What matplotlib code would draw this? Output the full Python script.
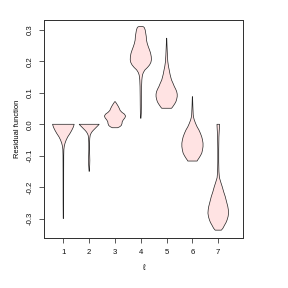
import numpy as np
import matplotlib
matplotlib.use("Agg")
import matplotlib.pyplot as plt

plt.rcParams['font.family'] = ['Liberation Sans', 'DejaVu Sans']
plt.rcParams['axes.unicode_minus'] = False

# violin outlines: level of the residual and half width
pos = [1, 2, 3, 4, 5, 6, 7]

v1_y = [0.0, -0.01, -0.02, -0.03, -0.04, -0.05, -0.06, -0.07, -0.08, -0.1, -0.15, -0.2, -0.25, -0.3]
v1_w = [0.42, 0.38, 0.32, 0.25, 0.17, 0.11, 0.065, 0.035, 0.02, 0.014, 0.012, 0.011, 0.01, 0.006]

v2_y = [0.0, -0.005, -0.01, -0.015, -0.02, -0.025, -0.03, -0.035, -0.045, -0.06, -0.08,
        -0.1, -0.115, -0.13, -0.14, -0.15]
v2_w = [0.39, 0.33, 0.27, 0.21, 0.15, 0.1, 0.065, 0.04, 0.022, 0.015, 0.014,
        0.02, 0.025, 0.02, 0.012, 0.004]

v3_y = [0.072, 0.066, 0.058, 0.05, 0.044, 0.038, 0.032, 0.026, 0.02, 0.014, 0.008,
        0.002, -0.004, -0.008, -0.011]
v3_w = [0.01, 0.06, 0.12, 0.17, 0.2, 0.27, 0.37, 0.41, 0.38, 0.32, 0.28,
        0.27, 0.24, 0.18, 0.1]

v4_y = [0.311, 0.310, 0.307, 0.30, 0.29, 0.28, 0.268, 0.257, 0.247, 0.236, 0.226, 0.215, 0.205,
        0.197, 0.189, 0.181, 0.173, 0.165, 0.157, 0.149, 0.141, 0.12, 0.09, 0.06, 0.035, 0.019]
v4_w = [0.07, 0.11, 0.14, 0.17, 0.19, 0.21, 0.22, 0.25, 0.29, 0.34, 0.38, 0.405, 0.41,
        0.39, 0.34, 0.26, 0.16, 0.1, 0.065, 0.05, 0.04, 0.03, 0.025, 0.022, 0.018, 0.006]

v5_y = [0.274, 0.25, 0.22, 0.2, 0.185, 0.173, 0.16, 0.15, 0.141, 0.13, 0.12, 0.112,
        0.104, 0.096, 0.088, 0.08, 0.072, 0.066, 0.061, 0.055, 0.051]
v5_w = [0.005, 0.015, 0.03, 0.045, 0.07, 0.1, 0.13, 0.16, 0.19, 0.25, 0.3, 0.35,
        0.39, 0.41, 0.41, 0.39, 0.36, 0.32, 0.28, 0.23, 0.19]

v6_y = [0.088, 0.06, 0.03, 0.022, 0.014, 0.003, -0.008, -0.018, -0.029, -0.04, -0.05,
        -0.06, -0.071, -0.082, -0.092, -0.1, -0.108, -0.114, -0.117]
v6_w = [0.005, 0.015, 0.03, 0.045, 0.07, 0.12, 0.18, 0.25, 0.31, 0.36, 0.39,
        0.41, 0.41, 0.39, 0.36, 0.31, 0.25, 0.2, 0.18]

v7_y = [0.0, -0.01, -0.04, -0.08, -0.12, -0.15, -0.17, -0.185, -0.199, -0.215, -0.23,
        -0.246, -0.262, -0.272, -0.283, -0.294, -0.305, -0.313, -0.321, -0.331, -0.337]
v7_w = [0.05, 0.045, 0.025, 0.018, 0.018, 0.025, 0.045, 0.1, 0.155, 0.21, 0.27,
        0.32, 0.37, 0.39, 0.40, 0.38, 0.34, 0.3, 0.245, 0.18, 0.12]

levels = [v1_y, v2_y, v3_y, v4_y, v5_y, v6_y, v7_y]
widths = [v1_w, v2_w, v3_w, v4_w, v5_w, v6_w, v7_w]

y_ticks = [-0.3, -0.2, -0.1, 0.0, 0.1, 0.2, 0.3]
y_labels = ['-0.3', '-0.2', '-0.1', '0.0', '0.1', '0.2', '0.3']

fig = plt.figure(figsize=(4, 4), dpi=72)
ax = fig.add_axes([0.1528, 0.1736, 0.692, 0.757])

for p, y, w in zip(pos, levels, widths):
    y = np.asarray(y)
    w = np.asarray(w)
    xs = np.concatenate([p + w, (p - w)[::-1]])
    ys = np.concatenate([y, y[::-1]])
    ax.fill(xs, ys, facecolor='#ffe3e3', edgecolor='#222222', linewidth=0.7)

ax.set_xlim(0.25, 7.97)
ax.set_ylim(-0.362, 0.332)
ax.set_xticks(pos)
ax.set_xticklabels([str(p) for p in pos])
ax.set_yticks(y_ticks)
ax.set_yticklabels(y_labels, rotation=90, va='center')

for s in ax.spines.values():
    s.set_color('#333333')
    s.set_linewidth(1.0)
ax.tick_params(direction='out', length=5, width=0.8, color='#333333',
               labelsize=7.8, labelcolor='#111111')
ax.tick_params(axis='x', pad=6)
ax.tick_params(axis='y', pad=5)

ax.set_xlabel('ℓ', fontsize=7.8)
ax.xaxis.label.set_va('center')
ax.xaxis.set_label_coords(0.5, -0.138)
ax.set_ylabel('Residual function', fontsize=7.5)
ax.yaxis.label.set_va('center')
ax.yaxis.set_label_coords(-0.135, 0.5)

fig.savefig('out.png', dpi=72)
